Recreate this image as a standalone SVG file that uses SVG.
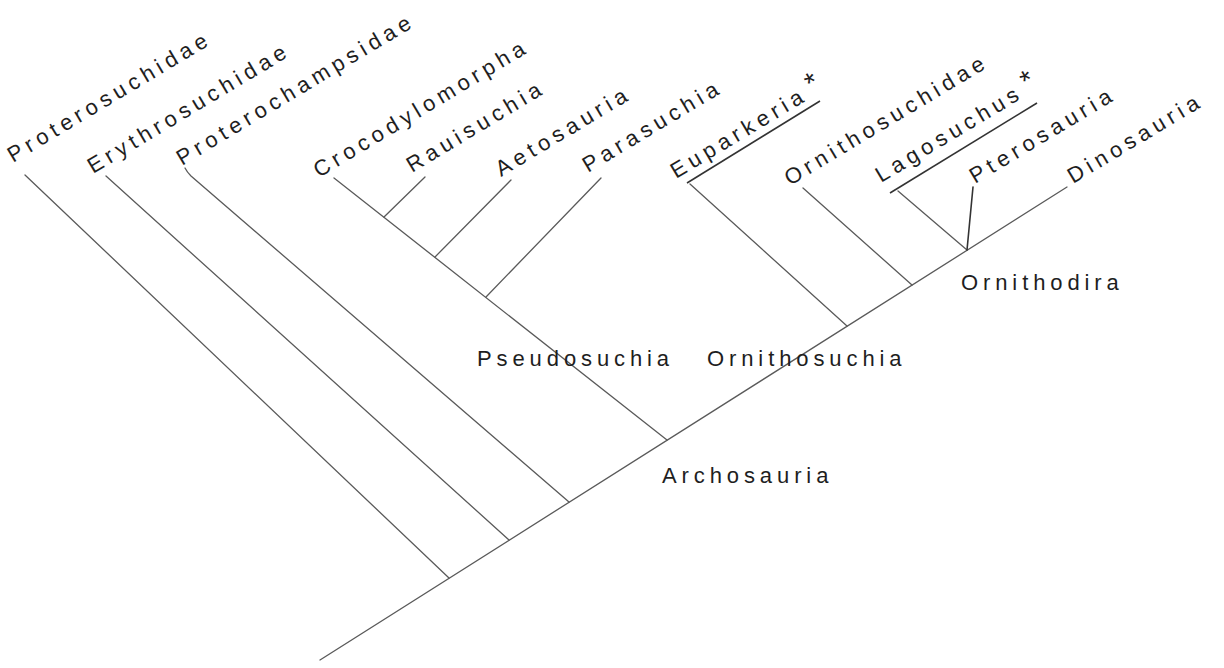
<svg xmlns="http://www.w3.org/2000/svg" width="1224" height="668" viewBox="0 0 1224 668">
<style>
  .lbl { font-family: "Liberation Sans", Arial, Helvetica, sans-serif; font-size: 22px; letter-spacing: 4.9px; fill: #1e1e1e; }
  .ast { font-size: 29px; letter-spacing: 0; }
  .ln { stroke: #5a5a5a; stroke-width: 1.3; fill: none; stroke-linecap: round; }
  .ul { stroke: #333; stroke-width: 1.6; fill: none; }
</style>
<rect width="1224" height="668" fill="#ffffff"/>
<g id="connectors">
  <line class="ln" x1="320" y1="660" x2="1067" y2="187"/>
  <line class="ln" x1="25" y1="175" x2="449" y2="578"/>
  <line class="ln" x1="106" y1="176" x2="509" y2="540"/>
  <path class="ln" d="M185 168 Q187 172 191 176 L569 502"/>
  <line class="ln" x1="334" y1="178" x2="667" y2="440"/>
  <line class="ln" x1="425" y1="177" x2="384" y2="217"/>
  <line class="ln" x1="511" y1="180" x2="435" y2="257"/>
  <line class="ln" x1="601" y1="178" x2="486" y2="297"/>
  <line class="ln" x1="690" y1="184" x2="847" y2="326"/>
  <line class="ln" x1="803" y1="188" x2="912" y2="285"/>
  <line class="ln" x1="898" y1="191" x2="967" y2="250"/>
  <line class="ln" x1="973" y1="187" x2="967" y2="250" style="stroke:#333;stroke-width:1.6"/>
</g>
<g id="node-proterosuchidae"><text class="lbl" transform="translate(13,163) rotate(-31)">Proterosuchidae</text></g>
<g id="node-erythrosuchidae"><text class="lbl" transform="translate(93,174) rotate(-31)">Erythrosuchidae</text></g>
<g id="node-proterochampsidae"><text class="lbl" transform="translate(182,166) rotate(-31)">Proterochampsidae</text></g>
<g id="node-crocodylomorpha"><text class="lbl" transform="translate(319,178) rotate(-31)">Crocodylomorpha</text></g>
<g id="node-rauisuchia"><text class="lbl" transform="translate(412,173) rotate(-31)">Rauisuchia</text></g>
<g id="node-aetosauria"><text class="lbl" transform="translate(501,177) rotate(-31)">Aetosauria</text></g>
<g id="node-parasuchia"><text class="lbl" transform="translate(588,173) rotate(-31)">Parasuchia</text></g>
<g id="node-euparkeria">
  <text class="lbl" transform="translate(676,179) rotate(-31)">Euparkeria<tspan class="ast" dx="5" dy="-3">*</tspan></text>
  <line class="ul" x1="687" y1="183" x2="820" y2="101"/>
</g>
<g id="node-ornithosuchidae"><text class="lbl" transform="translate(790,186) rotate(-31)">Ornithosuchidae</text></g>
<g id="node-lagosuchus">
  <text class="lbl" transform="translate(881,183) rotate(-31)">Lagosuchus<tspan class="ast" dx="5" dy="-3">*</tspan></text>
  <line class="ul" x1="890" y1="193" x2="1037" y2="103"/>
</g>
<g id="node-pterosauria"><text class="lbl" transform="translate(975,184) rotate(-31)">Pterosauria</text></g>
<g id="node-dinosauria"><text class="lbl" transform="translate(1073,184) rotate(-31)">Dinosauria</text></g>
<g id="node-pseudosuchia"><text class="lbl" x="477" y="366">Pseudosuchia</text></g>
<g id="node-ornithosuchia"><text class="lbl" x="707" y="366">Ornithosuchia</text></g>
<g id="node-archosauria"><text class="lbl" x="662" y="483">Archosauria</text></g>
<g id="node-ornithodira"><text class="lbl" x="961" y="290">Ornithodira</text></g>
</svg>
